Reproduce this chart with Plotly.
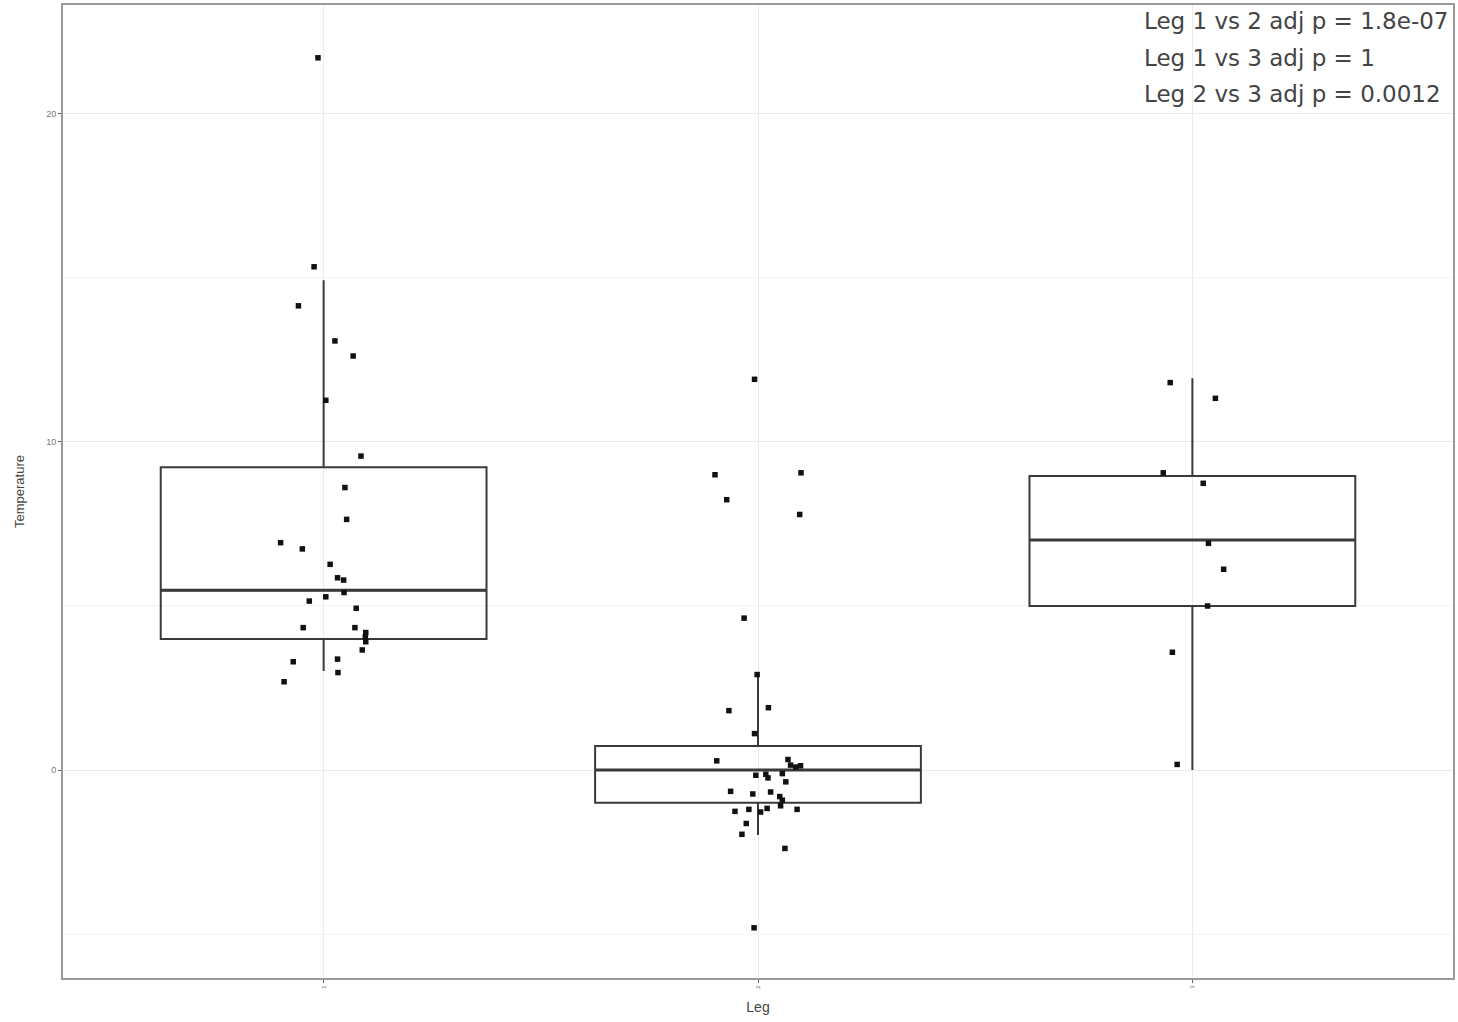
import plotly.graph_objects as go

# ---- data ----
categories = [1, 2, 3]
cat_labels = ["1", "2", "3"]

box_q1 = [3.99, -1.00, 5.00]
box_median = [5.48, 0.00, 7.01]
box_q3 = [9.23, 0.73, 8.96]
box_lower = [3.02, -1.98, 0.00]
box_upper = [14.93, 2.96, 11.94]

leg1_temp = [21.71, 15.34, 14.15, 13.08, 12.62, 11.27, 9.57, 8.61, 7.64, 6.93,
             6.74, 6.27, 5.86, 5.79, 5.41, 5.28, 5.15, 4.93, 4.34, 4.34,
             4.19, 4.06, 3.91, 3.66, 3.30, 3.38, 2.97, 2.69]
leg1_jitter = [-0.013, -0.022, -0.058, 0.026, 0.068, 0.005, 0.086, 0.049, 0.053, -0.099,
               -0.049, 0.015, 0.032, 0.046, 0.047, 0.005, -0.033, 0.075, -0.047, 0.072,
               0.097, 0.096, 0.097, 0.089, -0.070, 0.032, 0.033, -0.091]

leg2_temp = [11.91, 9.00, 9.06, 8.24, 7.79, 4.63, 2.91, 1.81, 1.90, 1.11,
             0.28, 0.32, 0.15, 0.09, 0.13, -0.16, -0.13, -0.24, -0.11, -0.36,
             -0.65, -0.73, -0.67, -0.81, -0.92, -1.09, -1.26, -1.20, -1.28, -1.17,
             -1.20, -1.63, -1.96, -2.39, -4.81]
leg2_jitter = [-0.008, -0.099, 0.099, -0.072, 0.096, -0.032, -0.002, -0.067, 0.024, -0.008,
               -0.095, 0.069, 0.075, 0.087, 0.098, -0.005, 0.018, 0.023, 0.056, 0.064,
               -0.063, -0.012, 0.029, 0.050, 0.056, 0.052, -0.053, -0.021, 0.006, 0.021,
               0.090, -0.027, -0.037, 0.062, -0.009]

leg3_temp = [11.81, 11.33, 9.06, 8.74, 6.91, 6.12, 5.00, 3.59, 0.17]
leg3_jitter = [-0.051, 0.053, -0.067, 0.025, 0.037, 0.072, 0.035, -0.046, -0.035]

stats_lines = ["Leg 1 vs 2 adj p = 1.8e-07",
               "Leg 1 vs 3 adj p = 1",
               "Leg 2 vs 3 adj p = 0.0012"]

box_width = 0.75
line_col = "#3a3a3a"

fig = go.Figure()

fig.add_trace(go.Box(
    x=categories, q1=box_q1, median=box_median, q3=box_q3,
    lowerfence=box_lower, upperfence=box_upper,
    width=box_width, whiskerwidth=0,
    fillcolor="rgba(255,255,255,0)",
    line=dict(color=line_col, width=2),
    boxpoints=False, showlegend=False, hoverinfo="skip",
))

# thicker median lines (ggplot fatten)
for c, m in zip(categories, box_median):
    fig.add_trace(go.Scatter(
        x=[c - box_width / 2, c + box_width / 2], y=[m, m], mode="lines",
        line=dict(color=line_col, width=3), showlegend=False, hoverinfo="skip",
    ))

for c, temps, jit in [(1, leg1_temp, leg1_jitter),
                      (2, leg2_temp, leg2_jitter),
                      (3, leg3_temp, leg3_jitter)]:
    fig.add_trace(go.Scatter(
        x=[c + j for j in jit], y=temps, mode="markers",
        marker=dict(color="#111111", size=5.5, symbol="square"),
        showlegend=False, hoverinfo="skip",
    ))

for i, txt in enumerate(stats_lines):
    fig.add_annotation(
        x=0.776, xref="paper", xanchor="left",
        y=1, yref="paper", yanchor="top", yshift=-1 - i * 36.5,
        text=txt, showarrow=False,
        font=dict(family="DejaVu Sans", size=23, color="#444444"),
    )

fig.update_layout(
    width=1458, height=1022,
    margin=dict(l=63, r=3, t=5, b=44),
    paper_bgcolor="white", plot_bgcolor="white",
    font=dict(family="Liberation Sans", color="#444444"),
    xaxis=dict(
        range=[0.4, 3.6], tickvals=categories, ticktext=cat_labels,
        tickangle=-90, tickfont=dict(size=6, color="#666666"),
        showgrid=True, gridcolor="#ebebeb", gridwidth=1.2,
        zeroline=False, showline=True, mirror=True,
        linecolor="#9a9a9a", linewidth=2,
        ticks="outside", ticklen=3, tickcolor="#666666", tickwidth=1,
        title=dict(text="Leg", font=dict(size=14, color="#444444"), standoff=14),
    ),
    yaxis=dict(
        range=[-6.34, 23.32], tickvals=[0, 10, 20],
        tickfont=dict(size=9, color="#777777"),
        showgrid=True, gridcolor="#ebebeb", gridwidth=1.2,
        minor=dict(tickvals=[-5, 5, 15], showgrid=True, gridcolor="#f2f2f2", gridwidth=1),
        zeroline=False, showline=True, mirror=True,
        linecolor="#9a9a9a", linewidth=2,
        ticks="outside", ticklen=3, tickcolor="#666666", tickwidth=1,
        title=dict(text="Temperature", font=dict(size=13, color="#444444"), standoff=19),
    ),
)

fig.write_html("out.html", config={"displayModeBar": False},
               post_script="document.body.style.margin='0';")
